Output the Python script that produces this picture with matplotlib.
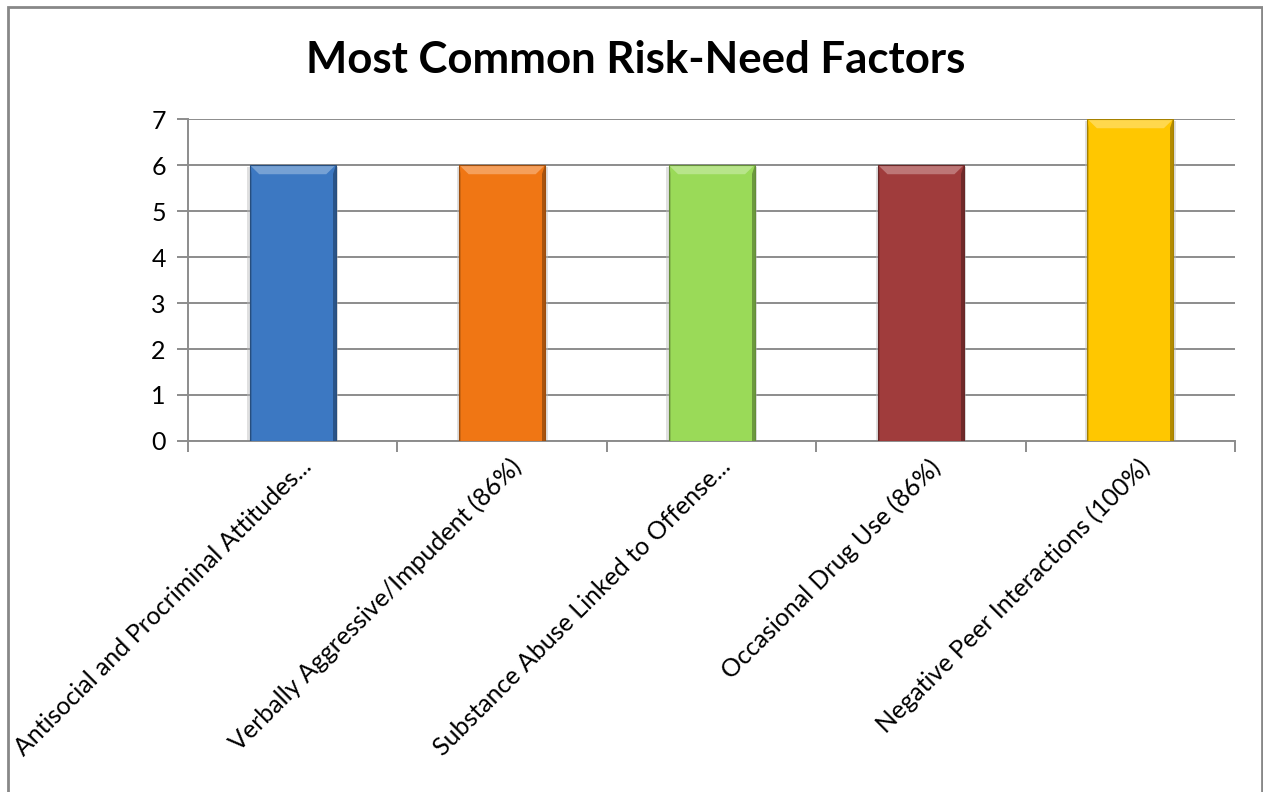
import numpy as np
import matplotlib
matplotlib.use("Agg")
import matplotlib.pyplot as plt
import matplotlib.transforms as mtransforms
from matplotlib.patches import Polygon, Rectangle
from matplotlib.colors import to_rgb

# Chart data
categories = [
    "Antisocial and Procriminal Attitudes...",
    "Verbally Aggressive/Impudent (86%)",
    "Substance Abuse Linked to Offense...",
    "Occasional Drug Use (86%)",
    "Negative Peer Interactions (100%)",
]
counts = [6, 6, 6, 6, 7]
bar_colors = ["#3C78C2", "#F07614", "#9ADA58", "#A03C3C", "#FFC700"]
y_ticks = [0, 1, 2, 3, 4, 5, 6, 7]

plt.rcParams["font.family"] = ["Lato", "DejaVu Sans"]

fig = plt.figure(figsize=(12.63, 7.92), dpi=100)
ax = fig.add_axes([0.1489, 0.4432, 0.8290, 0.4065])

x = np.arange(len(categories))
bars = ax.bar(x, counts, width=0.41, color=bar_colors, zorder=3,
              edgecolor="none")


def shade(c, f):
    r = np.array(to_rgb(c))
    if f > 0:
        return tuple(r + (1 - r) * f)
    return tuple(r * (1 + f))


# Fake Excel bevel: lighter top, darker sides, subtle shadow
for b, c in zip(bars, bar_colors):
    x0, w, h = b.get_x(), b.get_width(), b.get_height()
    dx, dy = w * 0.11, 0.2
    ax.add_patch(Rectangle((x0 - 0.012, -0.04), w + 0.024, h, color="#bbbbbb",
                           alpha=0.45, zorder=2.5, lw=0))
    ax.add_patch(Polygon([(x0, h), (x0 + w, h), (x0 + w - dx, h - dy), (x0 + dx, h - dy)],
                         closed=True, color=shade(c, 0.3), zorder=4, lw=0))
    ax.add_patch(Polygon([(x0 + w, h), (x0 + w, 0), (x0 + w - dx * 0.3, 0), (x0 + w - dx * 0.3, h - dy)],
                         closed=True, color=shade(c, -0.3), zorder=4, lw=0))
    ax.add_patch(Polygon([(x0, h), (x0, 0), (x0 + dx * 0.2, 0), (x0 + dx * 0.2, h - dy)],
                         closed=True, color=shade(c, -0.12), zorder=4, lw=0))
    ax.add_patch(Rectangle((x0, 0), w, h, fill=False, edgecolor=shade(c, -0.35),
                           lw=0.8, zorder=5))

ax.set_xlim(-0.5, len(categories) - 0.5)
ax.set_ylim(0, 7)
ax.set_yticks(y_ticks)
ax.set_yticklabels([str(t) for t in y_ticks], fontsize=18)
ax.yaxis.grid(True, color="#8c8c8c", lw=1.4, zorder=1)
ax.set_axisbelow(True)

ax.set_xticks(x)
ax.set_xticklabels(categories, rotation=45, ha="right", rotation_mode="anchor",
                   fontsize=18)
ax.tick_params(axis="x", length=0, pad=10)
# nudge the rotated labels a little to the right
shift = mtransforms.ScaledTranslation(7 / 100, 0, fig.dpi_scale_trans)
for lbl in ax.get_xticklabels():
    lbl.set_transform(lbl.get_transform() + shift)
ax.set_xticks(np.arange(len(categories) + 1) - 0.5, minor=True)
ax.tick_params(axis="x", which="minor", length=8, color="#8c8c8c", width=1.4)
ax.tick_params(axis="y", length=8, color="#8c8c8c", width=1.4, pad=8)

for s in ["top", "right"]:
    ax.spines[s].set_visible(False)
for s in ["left", "bottom"]:
    ax.spines[s].set_color("#8c8c8c")
    ax.spines[s].set_linewidth(1.4)

fig.text(0.503, 0.924, "Most Common Risk-Need Factors", ha="center", va="center",
         fontsize=31.5, fontweight="bold")

# Outer chart border
fig.add_artist(Rectangle((8 / 1263, -0.01), 1254 / 1263, 1 - 7 / 792 + 0.01,
                         transform=fig.transFigure, fill=False,
                         edgecolor="#888888", lw=2))

fig.savefig("out.png", dpi=100)
